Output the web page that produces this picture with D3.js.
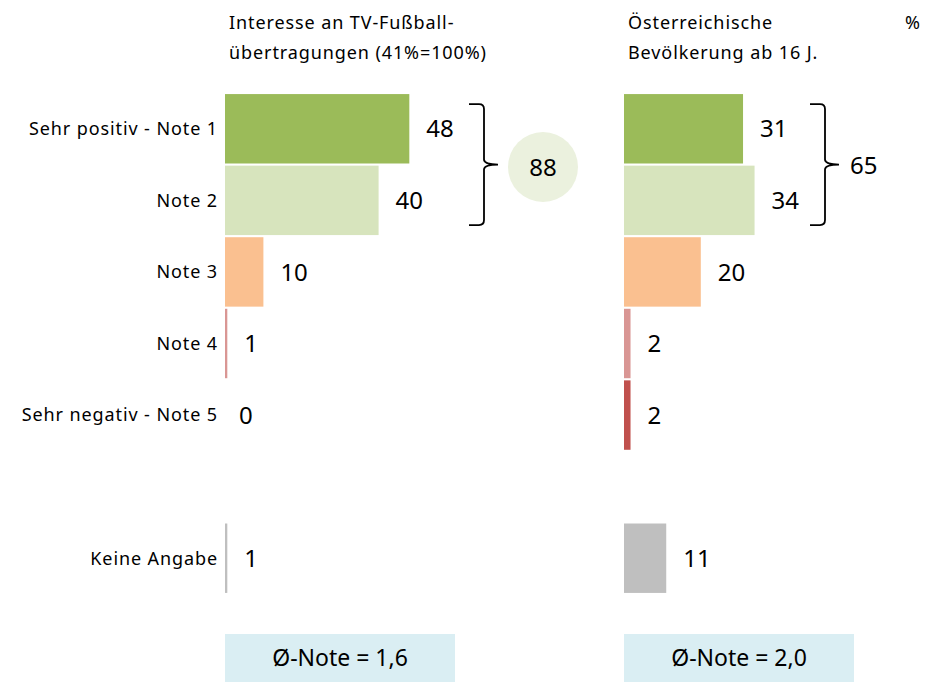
<!DOCTYPE html>
<html>
<head>
<meta charset="utf-8">
<script src="https://cdn.jsdelivr.net/npm/d3@7"></script>
<style>
  body { margin: 0; background: #fff; }
  text { font-family: "Noto Sans", "Open Sans", sans-serif; fill: #000; }
</style>
</head>
<body>
<div id="chart"></div>
<script>
// categories ("" = empty spacer row)
var categories = ["Sehr positiv - Note 1", "Note 2", "Note 3", "Note 4", "Sehr negativ - Note 5", "", "Keine Angabe"];
// interested in TV football broadcasts (41% = 100%)
var fanValues = [48, 40, 10, 0.6, 0, null, 0.6];
// Austrian population 16+
var popValues = [31, 34, 20, 1.7, 1.7, null, 11];
var barColors = ["#9bbb59", "#d7e4bd", "#fac090", "#d99694", "#c0504d", "none", "#bfbfbf"];
var panelTitles = [
  ["Interesse an TV-Fußball-", "übertragungen (41%=100%)"],
  ["Österreichische", "Bevölkerung ab 16 J."]
];
var topTwo = [88, 65];
var avgNotes = ["Ø-Note = 1,6", "Ø-Note = 2,0"];

var width = 943, height = 682;

var svg = d3.select("#chart").append("svg")
  .attr("width", width)
  .attr("height", height);

var x = d3.scaleLinear().domain([0, 100]).range([0, 384]);
var y = d3.scaleBand().domain(d3.range(categories.length))
  .range([93, 594]).paddingInner(0.03).paddingOuter(0.015);

var panels = [
  {x0: 225, values: fanValues},
  {x0: 624, values: popValues}
];

// category labels
svg.append("g").selectAll("text").data(categories).enter().append("text")
  .attr("x", 218)
  .attr("y", function (d, i) { return y(i) + y.bandwidth() / 2; })
  .attr("dy", "0.35em")
  .attr("text-anchor", "end")
  .style("font-size", "18px")
  .style("letter-spacing", "0.9px")
  .text(function (d) { return d; });

panels.forEach(function (p, pi) {
  var g = svg.append("g").attr("transform", "translate(" + p.x0 + ",0)");

  // titles
  g.append("g").selectAll("text").data(panelTitles[pi]).enter().append("text")
    .attr("x", 4)
    .attr("y", function (d, i) { return 29 + i * 30; })
    .style("font-size", "18px")
    .style("letter-spacing", "0.9px")
    .text(function (d) { return d; });

  var rows = p.values.map(function (v, i) { return {v: v, i: i}; })
    .filter(function (d) { return d.v !== null; });

  g.selectAll("rect.bar").data(rows).enter().append("rect")
    .attr("class", "bar")
    .attr("x", 0)
    .attr("y", function (d) { return y(d.i); })
    .attr("width", function (d) { return x(d.v); })
    .attr("height", y.bandwidth())
    .attr("fill", function (d) { return barColors[d.i]; });

  g.selectAll("text.val").data(rows).enter().append("text")
    .attr("class", "val")
    .attr("x", function (d) { return x(d.v) + (d.v > 0 ? 17 : 14); })
    .attr("y", function (d) { return y(d.i) + y.bandwidth() / 2; })
    .attr("dy", "0.36em")
    .style("font-size", "24px")
    .text(function (d) { return Math.round(d.v); });

  // bottom average box
  var bx = g.append("g").attr("transform", "translate(0,634)");
  bx.append("rect").attr("width", 230).attr("height", 48).attr("fill", "#daeef3");
  bx.append("text").attr("x", 115).attr("y", 24).attr("dy", "0.36em")
    .attr("text-anchor", "middle").style("font-size", "23px")
    .text(avgNotes[pi]);
});

// brackets (top two boxes)
function bracket(xv, y0, y1) {
  var ym = (y0 + y1) / 2, r = 5;
  return "M" + (xv - 15) + "," + y0 +
    " L" + (xv - r) + "," + y0 +
    " Q" + xv + "," + y0 + " " + xv + "," + (y0 + r) +
    " L" + xv + "," + (ym - r) +
    " Q" + xv + "," + ym + " " + (xv + 14) + "," + ym +
    " Q" + xv + "," + ym + " " + xv + "," + (ym + r) +
    " L" + xv + "," + (y1 - r) +
    " Q" + xv + "," + y1 + " " + (xv - r) + "," + y1 +
    " L" + (xv - 15) + "," + y1;
}
var bTop = y(0) + 10, bBot = y(1) + y.bandwidth() - 10;
[484, 825].forEach(function (bxv) {
  svg.append("path").attr("d", bracket(bxv, bTop, bBot))
    .attr("fill", "none").attr("stroke", "#000").attr("stroke-width", 1.8);
});

// top-two sums
svg.append("circle").attr("cx", 543).attr("cy", 167).attr("r", 35).attr("fill", "#ebf1de");
svg.append("text").attr("x", 543).attr("y", 167).attr("dy", "0.36em")
  .attr("text-anchor", "middle").style("font-size", "24px").text(topTwo[0]);
svg.append("text").attr("x", 850).attr("y", 165).attr("dy", "0.36em")
  .style("font-size", "24px").text(topTwo[1]);

// percent sign
svg.append("text").attr("x", 905).attr("y", 29).style("font-size", "18px").text("%");
</script>
</body>
</html>
